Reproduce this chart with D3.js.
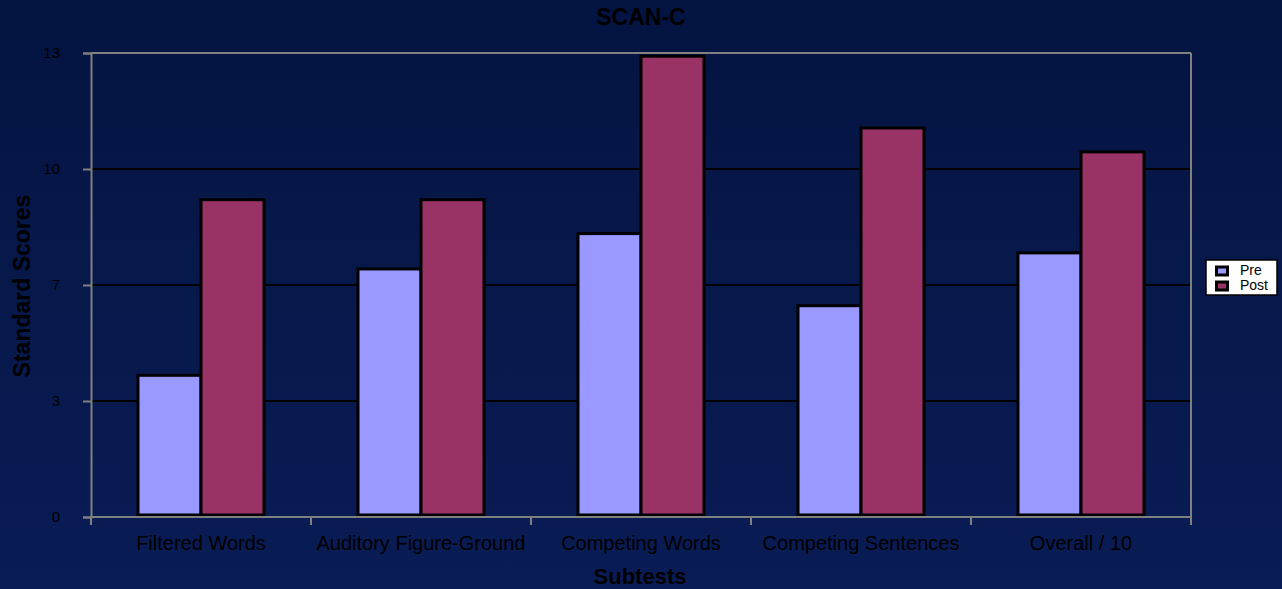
<!DOCTYPE html>
<html>
<head>
<meta charset="utf-8">
<script src="https://cdn.jsdelivr.net/npm/d3@7"></script>
<style>
  html, body { margin: 0; padding: 0; background: #061645; }
  svg { display: block; font-family: "Liberation Sans", Arial, sans-serif; }
</style>
</head>
<body>
<svg id="chart" width="1282" height="589"></svg>
<script>
// SCAN-C subtest standard scores, before and after
const categories = ["Filtered Words", "Auditory Figure-Ground", "Competing Words", "Competing Sentences", "Overall / 10"];
const seriesNames = ["Pre", "Post"];
const preValues  = [3.97, 6.95, 7.94, 5.92, 7.4];
const postValues = [8.89, 8.89, 12.91, 10.9, 10.23];
const yTickValues = [0, 3.25, 6.5, 9.75, 13];
const yTickLabels = ["0", "3", "7", "10", "13"];
const seriesColors = ["#9999ff", "#993366"];

const svg = d3.select("#chart");
const W = 1282, H = 589;
const plot = { left: 91, right: 1191, top: 53, bottom: 517 };

// background gradient
const defs = svg.append("defs");
const grad = defs.append("linearGradient").attr("id", "bg").attr("x1", 0).attr("y1", 0).attr("x2", 0).attr("y2", 1);
grad.append("stop").attr("offset", "0%").attr("stop-color", "#041441");
grad.append("stop").attr("offset", "100%").attr("stop-color", "#0a1c55");
svg.append("rect").attr("width", W).attr("height", H).attr("fill", "url(#bg)");

const x = d3.scaleBand().domain(categories).range([plot.left, plot.right]).padding(0);
const y = d3.scaleLinear().domain([0, 13]).range([plot.bottom, plot.top]);
const barW = 63;

// horizontal gridlines
svg.append("g").selectAll("line")
  .data(yTickValues.filter(v => v > 0 && v < 13))
  .join("line")
  .attr("x1", plot.left).attr("x2", plot.right)
  .attr("y1", d => y(d)).attr("y2", d => y(d))
  .attr("stroke", "#000").attr("stroke-width", 2);

// plot frame (top and right)
svg.append("line").attr("x1", plot.left).attr("x2", plot.right).attr("y1", plot.top).attr("y2", plot.top)
  .attr("stroke", "#808080").attr("stroke-width", 2);
svg.append("line").attr("x1", plot.right).attr("x2", plot.right).attr("y1", plot.top).attr("y2", plot.bottom)
  .attr("stroke", "#808080").attr("stroke-width", 2);

// bars
const data = categories.map((c, i) => ({ c, vals: [preValues[i], postValues[i]] }));
const groups = svg.append("g").selectAll("g").data(data).join("g");
groups.selectAll("rect")
  .data(d => d.vals.map((v, j) => ({ c: d.c, v, j })))
  .join("rect")
  .attr("x", d => x(d.c) + x.bandwidth() / 2 - barW + d.j * barW)
  .attr("y", d => y(d.v))
  .attr("width", barW)
  .attr("height", d => y(0) - y(d.v) - 2)
  .attr("fill", d => seriesColors[d.j])
  .attr("stroke", "#000")
  .attr("stroke-width", 3);

// y axis
const yAxis = d3.axisLeft(y).tickValues(yTickValues)
  .tickFormat((d, i) => yTickLabels[i]).tickSize(8).tickPadding(23);
const gy = svg.append("g").attr("transform", `translate(${plot.left},0)`).call(yAxis);
gy.select(".domain").attr("stroke", "#808080").attr("stroke-width", 2);
gy.selectAll(".tick line").attr("stroke", "#808080").attr("stroke-width", 2);
gy.selectAll(".tick text").attr("fill", "#000").style("font-size", "15px")
  .style("font-family", "Liberation Sans, Arial, sans-serif");

// x axis with ticks at category boundaries
const gx = svg.append("g").attr("transform", `translate(0,${plot.bottom})`);
gx.append("line").attr("x1", plot.left - 1).attr("x2", plot.right + 1).attr("y1", 0).attr("y2", 0)
  .attr("stroke", "#808080").attr("stroke-width", 2);
const bounds = categories.map(c => x(c)).concat([plot.right]);
gx.selectAll(".bt").data(bounds).join("line")
  .attr("x1", d => d).attr("x2", d => d).attr("y1", 0).attr("y2", 8)
  .attr("stroke", "#808080").attr("stroke-width", 2);
gx.selectAll(".cl").data(categories).join("text")
  .attr("x", d => x(d) + x.bandwidth() / 2)
  .attr("y", 33)
  .attr("text-anchor", "middle")
  .attr("fill", "#000")
  .style("font-size", "20px")
  .text(d => d);

// titles
svg.append("text").attr("x", 641).attr("y", 25).attr("text-anchor", "middle")
  .attr("fill", "#000").style("font-size", "23px").style("font-weight", "bold").text("SCAN-C");
svg.append("text").attr("x", 640).attr("y", 584).attr("text-anchor", "middle")
  .attr("fill", "#000").style("font-size", "22px").style("font-weight", "bold").text("Subtests");
svg.append("text").attr("transform", "translate(30,286) rotate(-90)").attr("text-anchor", "middle")
  .attr("fill", "#000").style("font-size", "23px").style("font-weight", "bold").text("Standard Scores");

// legend
const lg = svg.append("g").attr("transform", "translate(1206,260)");
lg.append("rect").attr("width", 71).attr("height", 35).attr("fill", "#fff")
  .attr("stroke", "#000").attr("stroke-width", 1.5);
seriesNames.forEach((n, i) => {
  lg.append("rect").attr("x", 10.5).attr("y", 7 + i * 15).attr("width", 11).attr("height", 8)
    .attr("fill", seriesColors[i]).attr("stroke", "#000").attr("stroke-width", 3);
  lg.append("text").attr("x", 34).attr("y", 15 + i * 15).attr("fill", "#000")
    .style("font-size", "14px").text(n);
});
</script>
</body>
</html>
